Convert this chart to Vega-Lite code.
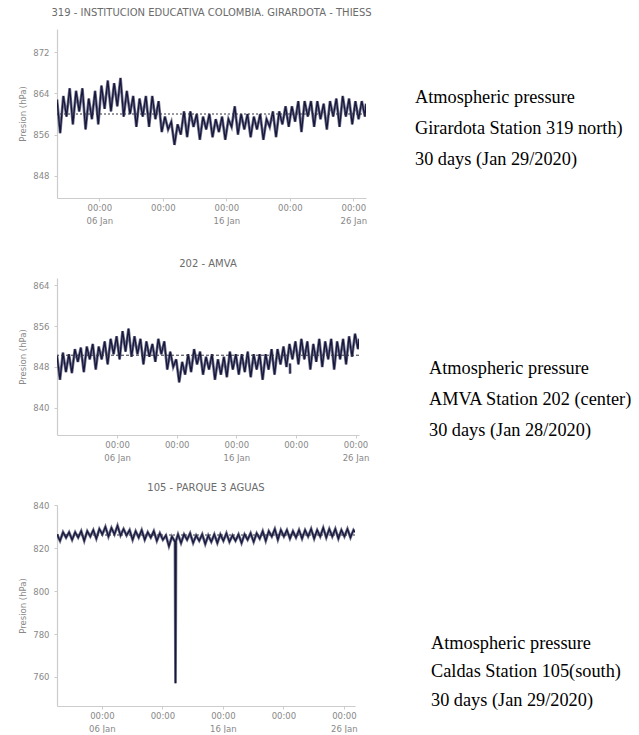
{
  "$schema": "https://vega.github.io/schema/vega-lite/v6.json",
  "background": "white",
  "padding": {"left": 18, "top": 8, "right": 2, "bottom": 0},
  "datasets": {
    "s319": [
      {"t": "2020-01-02T16:00", "p": 862.8}, {"t": "2020-01-02T22:00", "p": 856.3},
      {"t": "2020-01-03T04:00", "p": 863.5}, {"t": "2020-01-03T10:00", "p": 859.5}, {"t": "2020-01-03T16:00", "p": 865.0}, {"t": "2020-01-03T22:00", "p": 858.0},
      {"t": "2020-01-04T04:00", "p": 864.5}, {"t": "2020-01-04T10:00", "p": 860.5}, {"t": "2020-01-04T16:00", "p": 865.0}, {"t": "2020-01-04T22:00", "p": 857.0},
      {"t": "2020-01-05T04:00", "p": 863.0}, {"t": "2020-01-05T10:00", "p": 859.0}, {"t": "2020-01-05T16:00", "p": 864.5}, {"t": "2020-01-05T22:00", "p": 858.0},
      {"t": "2020-01-06T04:00", "p": 865.5}, {"t": "2020-01-06T10:00", "p": 861.0}, {"t": "2020-01-06T16:00", "p": 866.5}, {"t": "2020-01-06T22:00", "p": 860.5},
      {"t": "2020-01-07T04:00", "p": 866.0}, {"t": "2020-01-07T10:00", "p": 861.5}, {"t": "2020-01-07T16:00", "p": 867.0}, {"t": "2020-01-07T22:00", "p": 859.5},
      {"t": "2020-01-08T04:00", "p": 864.5}, {"t": "2020-01-08T10:00", "p": 860.0}, {"t": "2020-01-08T16:00", "p": 863.5}, {"t": "2020-01-08T22:00", "p": 857.5},
      {"t": "2020-01-09T04:00", "p": 863.0}, {"t": "2020-01-09T10:00", "p": 859.5}, {"t": "2020-01-09T16:00", "p": 863.5}, {"t": "2020-01-09T22:00", "p": 857.5},
      {"t": "2020-01-10T04:00", "p": 863.5}, {"t": "2020-01-10T10:00", "p": 859.0}, {"t": "2020-01-10T16:00", "p": 862.5}, {"t": "2020-01-10T22:00", "p": 856.5},
      {"t": "2020-01-11T04:00", "p": 859.5}, {"t": "2020-01-11T10:00", "p": 857.0}, {"t": "2020-01-11T16:00", "p": 858.5}, {"t": "2020-01-11T22:00", "p": 854.0},
      {"t": "2020-01-12T04:00", "p": 858.0}, {"t": "2020-01-12T10:00", "p": 856.0}, {"t": "2020-01-12T16:00", "p": 860.5}, {"t": "2020-01-12T22:00", "p": 855.5},
      {"t": "2020-01-13T04:00", "p": 860.5}, {"t": "2020-01-13T10:00", "p": 857.5}, {"t": "2020-01-13T16:00", "p": 860.0}, {"t": "2020-01-13T22:00", "p": 855.0},
      {"t": "2020-01-14T04:00", "p": 859.5}, {"t": "2020-01-14T10:00", "p": 857.0}, {"t": "2020-01-14T16:00", "p": 860.0}, {"t": "2020-01-14T22:00", "p": 855.5},
      {"t": "2020-01-15T04:00", "p": 859.0}, {"t": "2020-01-15T10:00", "p": 856.5}, {"t": "2020-01-15T16:00", "p": 859.5}, {"t": "2020-01-15T22:00", "p": 855.0},
      {"t": "2020-01-16T04:00", "p": 859.0}, {"t": "2020-01-16T10:00", "p": 857.5}, {"t": "2020-01-16T16:00", "p": 861.5}, {"t": "2020-01-16T22:00", "p": 856.0},
      {"t": "2020-01-17T04:00", "p": 860.0}, {"t": "2020-01-17T10:00", "p": 857.0}, {"t": "2020-01-17T16:00", "p": 860.0}, {"t": "2020-01-17T22:00", "p": 855.5},
      {"t": "2020-01-18T04:00", "p": 859.5}, {"t": "2020-01-18T10:00", "p": 857.0}, {"t": "2020-01-18T16:00", "p": 860.0}, {"t": "2020-01-18T22:00", "p": 855.0},
      {"t": "2020-01-19T04:00", "p": 859.0}, {"t": "2020-01-19T10:00", "p": 857.5}, {"t": "2020-01-19T16:00", "p": 860.5}, {"t": "2020-01-19T22:00", "p": 855.5},
      {"t": "2020-01-20T04:00", "p": 860.5}, {"t": "2020-01-20T10:00", "p": 858.0}, {"t": "2020-01-20T16:00", "p": 861.5}, {"t": "2020-01-20T22:00", "p": 857.5},
      {"t": "2020-01-21T04:00", "p": 861.5}, {"t": "2020-01-21T10:00", "p": 858.5}, {"t": "2020-01-21T16:00", "p": 862.5}, {"t": "2020-01-21T22:00", "p": 856.5},
      {"t": "2020-01-22T04:00", "p": 862.5}, {"t": "2020-01-22T10:00", "p": 859.5}, {"t": "2020-01-22T16:00", "p": 862.5}, {"t": "2020-01-22T22:00", "p": 857.5},
      {"t": "2020-01-23T04:00", "p": 862.5}, {"t": "2020-01-23T10:00", "p": 859.0}, {"t": "2020-01-23T16:00", "p": 862.0}, {"t": "2020-01-23T22:00", "p": 857.0},
      {"t": "2020-01-24T04:00", "p": 862.5}, {"t": "2020-01-24T10:00", "p": 859.5}, {"t": "2020-01-24T16:00", "p": 863.0}, {"t": "2020-01-24T22:00", "p": 857.5},
      {"t": "2020-01-25T04:00", "p": 863.5}, {"t": "2020-01-25T10:00", "p": 859.5}, {"t": "2020-01-25T16:00", "p": 863.0}, {"t": "2020-01-25T22:00", "p": 858.0},
      {"t": "2020-01-26T04:00", "p": 862.5}, {"t": "2020-01-26T10:00", "p": 859.0}, {"t": "2020-01-26T16:00", "p": 862.5}, {"t": "2020-01-26T22:00", "p": 859.5},
      {"t": "2020-01-27T00:00", "p": 862.0}
    ],
    "s202": [
      {"t": "2019-12-31T23:00", "p": 850.2, "seg": "a"},
      {"t": "2020-01-01T05:00", "p": 845.5, "seg": "a"}, {"t": "2020-01-01T11:00", "p": 850.8, "seg": "a"}, {"t": "2020-01-01T17:00", "p": 847.0, "seg": "a"}, {"t": "2020-01-01T23:00", "p": 850.5, "seg": "a"},
      {"t": "2020-01-02T05:00", "p": 846.8, "seg": "a"}, {"t": "2020-01-02T11:00", "p": 851.5, "seg": "a"}, {"t": "2020-01-02T17:00", "p": 849.0, "seg": "a"}, {"t": "2020-01-02T23:00", "p": 851.8, "seg": "a"},
      {"t": "2020-01-03T05:00", "p": 847.0, "seg": "a"}, {"t": "2020-01-03T11:00", "p": 852.0, "seg": "a"}, {"t": "2020-01-03T17:00", "p": 849.5, "seg": "a"}, {"t": "2020-01-03T23:00", "p": 852.5, "seg": "a"},
      {"t": "2020-01-04T05:00", "p": 847.5, "seg": "a"}, {"t": "2020-01-04T11:00", "p": 852.0, "seg": "a"}, {"t": "2020-01-04T17:00", "p": 849.5, "seg": "a"}, {"t": "2020-01-04T23:00", "p": 853.0, "seg": "a"},
      {"t": "2020-01-05T05:00", "p": 848.5, "seg": "a"}, {"t": "2020-01-05T11:00", "p": 853.5, "seg": "a"}, {"t": "2020-01-05T17:00", "p": 850.5, "seg": "a"}, {"t": "2020-01-05T23:00", "p": 854.0, "seg": "a"},
      {"t": "2020-01-06T05:00", "p": 849.5, "seg": "a"}, {"t": "2020-01-06T11:00", "p": 855.0, "seg": "a"}, {"t": "2020-01-06T17:00", "p": 851.0, "seg": "a"}, {"t": "2020-01-06T23:00", "p": 855.5, "seg": "a"},
      {"t": "2020-01-07T05:00", "p": 850.0, "seg": "a"}, {"t": "2020-01-07T11:00", "p": 854.0, "seg": "a"}, {"t": "2020-01-07T17:00", "p": 850.5, "seg": "a"}, {"t": "2020-01-07T23:00", "p": 853.5, "seg": "a"},
      {"t": "2020-01-08T05:00", "p": 848.5, "seg": "a"}, {"t": "2020-01-08T11:00", "p": 853.0, "seg": "a"}, {"t": "2020-01-08T17:00", "p": 850.0, "seg": "a"}, {"t": "2020-01-08T23:00", "p": 852.5, "seg": "a"},
      {"t": "2020-01-09T05:00", "p": 849.0, "seg": "a"}, {"t": "2020-01-09T11:00", "p": 853.5, "seg": "a"}, {"t": "2020-01-09T17:00", "p": 850.5, "seg": "a"}, {"t": "2020-01-09T23:00", "p": 853.0, "seg": "a"},
      {"t": "2020-01-10T05:00", "p": 847.5, "seg": "a"}, {"t": "2020-01-10T11:00", "p": 851.0, "seg": "a"}, {"t": "2020-01-10T17:00", "p": 848.0, "seg": "a"}, {"t": "2020-01-10T23:00", "p": 849.5, "seg": "a"},
      {"t": "2020-01-11T05:00", "p": 845.0, "seg": "a"}, {"t": "2020-01-11T11:00", "p": 849.0, "seg": "a"}, {"t": "2020-01-11T17:00", "p": 846.5, "seg": "a"}, {"t": "2020-01-11T23:00", "p": 850.5, "seg": "a"},
      {"t": "2020-01-12T05:00", "p": 847.0, "seg": "a"}, {"t": "2020-01-12T11:00", "p": 851.5, "seg": "a"}, {"t": "2020-01-12T17:00", "p": 848.5, "seg": "a"}, {"t": "2020-01-12T23:00", "p": 851.0, "seg": "a"},
      {"t": "2020-01-13T05:00", "p": 846.5, "seg": "a"}, {"t": "2020-01-13T11:00", "p": 850.0, "seg": "a"}, {"t": "2020-01-13T17:00", "p": 847.5, "seg": "a"}, {"t": "2020-01-13T23:00", "p": 850.5, "seg": "a"},
      {"t": "2020-01-14T05:00", "p": 845.5, "seg": "a"}, {"t": "2020-01-14T11:00", "p": 849.5, "seg": "a"}, {"t": "2020-01-14T17:00", "p": 846.5, "seg": "a"}, {"t": "2020-01-14T23:00", "p": 850.0, "seg": "a"},
      {"t": "2020-01-15T05:00", "p": 846.0, "seg": "a"}, {"t": "2020-01-15T11:00", "p": 851.0, "seg": "a"}, {"t": "2020-01-15T17:00", "p": 847.5, "seg": "a"}, {"t": "2020-01-15T23:00", "p": 850.5, "seg": "a"},
      {"t": "2020-01-16T05:00", "p": 846.5, "seg": "a"}, {"t": "2020-01-16T11:00", "p": 850.5, "seg": "a"}, {"t": "2020-01-16T17:00", "p": 847.0, "seg": "a"}, {"t": "2020-01-16T23:00", "p": 851.0, "seg": "a"},
      {"t": "2020-01-17T05:00", "p": 846.0, "seg": "a"}, {"t": "2020-01-17T11:00", "p": 850.5, "seg": "a"}, {"t": "2020-01-17T17:00", "p": 847.5, "seg": "a"}, {"t": "2020-01-17T23:00", "p": 850.5, "seg": "a"},
      {"t": "2020-01-18T05:00", "p": 845.5, "seg": "a"}, {"t": "2020-01-18T11:00", "p": 850.5, "seg": "a"}, {"t": "2020-01-18T17:00", "p": 847.5, "seg": "a"}, {"t": "2020-01-18T23:00", "p": 851.5, "seg": "a"},
      {"t": "2020-01-19T05:00", "p": 846.5, "seg": "a"}, {"t": "2020-01-19T11:00", "p": 851.5, "seg": "a"}, {"t": "2020-01-19T17:00", "p": 848.5, "seg": "a"}, {"t": "2020-01-19T23:00", "p": 852.0, "seg": "a"},
      {"t": "2020-01-20T05:00", "p": 848.0, "seg": "a"}, {"t": "2020-01-20T11:00", "p": 852.5, "seg": "a"}, {"t": "2020-01-20T17:00", "p": 849.5, "seg": "a"}, {"t": "2020-01-20T23:00", "p": 853.0, "seg": "a"},
      {"t": "2020-01-21T05:00", "p": 848.5, "seg": "a"}, {"t": "2020-01-21T11:00", "p": 853.5, "seg": "a"}, {"t": "2020-01-21T17:00", "p": 849.5, "seg": "a"}, {"t": "2020-01-21T23:00", "p": 853.0, "seg": "a"},
      {"t": "2020-01-22T05:00", "p": 847.5, "seg": "a"}, {"t": "2020-01-22T11:00", "p": 852.5, "seg": "a"}, {"t": "2020-01-22T17:00", "p": 849.0, "seg": "a"}, {"t": "2020-01-22T23:00", "p": 853.5, "seg": "a"},
      {"t": "2020-01-23T05:00", "p": 848.0, "seg": "a"}, {"t": "2020-01-23T11:00", "p": 853.0, "seg": "a"}, {"t": "2020-01-23T17:00", "p": 849.5, "seg": "a"}, {"t": "2020-01-23T23:00", "p": 853.5, "seg": "a"},
      {"t": "2020-01-24T05:00", "p": 847.5, "seg": "a"}, {"t": "2020-01-24T11:00", "p": 853.0, "seg": "a"}, {"t": "2020-01-24T17:00", "p": 849.5, "seg": "a"}, {"t": "2020-01-24T23:00", "p": 853.5, "seg": "a"},
      {"t": "2020-01-25T05:00", "p": 848.5, "seg": "a"}, {"t": "2020-01-25T11:00", "p": 854.0, "seg": "a"}, {"t": "2020-01-25T17:00", "p": 850.0, "seg": "a"}, {"t": "2020-01-25T23:00", "p": 854.5, "seg": "a"},
      {"t": "2020-01-26T05:00", "p": 851.5, "seg": "a"}, {"t": "2020-01-26T07:00", "p": 853.5, "seg": "a"},
      {"t": "2020-01-20T12:00", "p": 848.7, "seg": "b"}, {"t": "2020-01-20T12:20", "p": 846.7, "seg": "b"}
    ],
    "s105": [
      {"t": "2020-01-02T07:00", "p": 826.5}, {"t": "2020-01-02T13:00", "p": 823.5}, {"t": "2020-01-02T19:00", "p": 827.5},
      {"t": "2020-01-03T01:00", "p": 825.0}, {"t": "2020-01-03T07:00", "p": 827.5}, {"t": "2020-01-03T13:00", "p": 824.0}, {"t": "2020-01-03T19:00", "p": 827.5},
      {"t": "2020-01-04T01:00", "p": 825.0}, {"t": "2020-01-04T07:00", "p": 828.0}, {"t": "2020-01-04T13:00", "p": 823.5}, {"t": "2020-01-04T19:00", "p": 828.0},
      {"t": "2020-01-05T01:00", "p": 825.5}, {"t": "2020-01-05T07:00", "p": 828.5}, {"t": "2020-01-05T13:00", "p": 824.5}, {"t": "2020-01-05T19:00", "p": 829.0},
      {"t": "2020-01-06T01:00", "p": 826.5}, {"t": "2020-01-06T07:00", "p": 830.0}, {"t": "2020-01-06T13:00", "p": 825.5}, {"t": "2020-01-06T19:00", "p": 829.5},
      {"t": "2020-01-07T01:00", "p": 826.5}, {"t": "2020-01-07T07:00", "p": 830.5}, {"t": "2020-01-07T13:00", "p": 826.0}, {"t": "2020-01-07T19:00", "p": 829.0},
      {"t": "2020-01-08T01:00", "p": 826.0}, {"t": "2020-01-08T07:00", "p": 828.5}, {"t": "2020-01-08T13:00", "p": 824.0}, {"t": "2020-01-08T19:00", "p": 828.0},
      {"t": "2020-01-09T01:00", "p": 825.0}, {"t": "2020-01-09T07:00", "p": 828.5}, {"t": "2020-01-09T13:00", "p": 824.0}, {"t": "2020-01-09T19:00", "p": 827.5},
      {"t": "2020-01-10T01:00", "p": 825.0}, {"t": "2020-01-10T07:00", "p": 828.0}, {"t": "2020-01-10T13:00", "p": 823.5}, {"t": "2020-01-10T19:00", "p": 827.0},
      {"t": "2020-01-11T01:00", "p": 824.0}, {"t": "2020-01-11T07:00", "p": 826.0}, {"t": "2020-01-11T13:00", "p": 821.0}, {"t": "2020-01-11T19:00", "p": 825.5},
      {"t": "2020-01-12T01:00", "p": 823.0}, {"t": "2020-01-12T02:00", "p": 757.0}, {"t": "2020-01-12T03:00", "p": 823.5}, {"t": "2020-01-12T07:00", "p": 826.5}, {"t": "2020-01-12T13:00", "p": 822.5}, {"t": "2020-01-12T19:00", "p": 826.5},
      {"t": "2020-01-13T01:00", "p": 824.0}, {"t": "2020-01-13T07:00", "p": 827.0}, {"t": "2020-01-13T13:00", "p": 822.5}, {"t": "2020-01-13T19:00", "p": 826.0},
      {"t": "2020-01-14T01:00", "p": 823.5}, {"t": "2020-01-14T07:00", "p": 826.5}, {"t": "2020-01-14T13:00", "p": 822.0}, {"t": "2020-01-14T19:00", "p": 826.0},
      {"t": "2020-01-15T01:00", "p": 823.0}, {"t": "2020-01-15T07:00", "p": 826.5}, {"t": "2020-01-15T13:00", "p": 822.5}, {"t": "2020-01-15T19:00", "p": 826.5},
      {"t": "2020-01-16T01:00", "p": 823.5}, {"t": "2020-01-16T07:00", "p": 827.0}, {"t": "2020-01-16T13:00", "p": 823.0}, {"t": "2020-01-16T19:00", "p": 826.0},
      {"t": "2020-01-17T01:00", "p": 823.5}, {"t": "2020-01-17T07:00", "p": 826.5}, {"t": "2020-01-17T13:00", "p": 822.5}, {"t": "2020-01-17T19:00", "p": 826.5},
      {"t": "2020-01-18T01:00", "p": 824.0}, {"t": "2020-01-18T07:00", "p": 827.0}, {"t": "2020-01-18T13:00", "p": 823.0}, {"t": "2020-01-18T19:00", "p": 827.0},
      {"t": "2020-01-19T01:00", "p": 824.5}, {"t": "2020-01-19T07:00", "p": 828.0}, {"t": "2020-01-19T13:00", "p": 823.5}, {"t": "2020-01-19T19:00", "p": 828.0},
      {"t": "2020-01-20T01:00", "p": 825.5}, {"t": "2020-01-20T07:00", "p": 829.0}, {"t": "2020-01-20T13:00", "p": 824.0}, {"t": "2020-01-20T19:00", "p": 828.5},
      {"t": "2020-01-21T01:00", "p": 825.5}, {"t": "2020-01-21T07:00", "p": 828.5}, {"t": "2020-01-21T13:00", "p": 824.5}, {"t": "2020-01-21T19:00", "p": 828.0},
      {"t": "2020-01-22T01:00", "p": 825.0}, {"t": "2020-01-22T07:00", "p": 828.5}, {"t": "2020-01-22T13:00", "p": 824.5}, {"t": "2020-01-22T19:00", "p": 828.5},
      {"t": "2020-01-23T01:00", "p": 825.5}, {"t": "2020-01-23T07:00", "p": 829.0}, {"t": "2020-01-23T13:00", "p": 824.5}, {"t": "2020-01-23T19:00", "p": 828.5},
      {"t": "2020-01-24T01:00", "p": 825.5}, {"t": "2020-01-24T07:00", "p": 829.5}, {"t": "2020-01-24T13:00", "p": 825.0}, {"t": "2020-01-24T19:00", "p": 829.0},
      {"t": "2020-01-25T01:00", "p": 825.5}, {"t": "2020-01-25T07:00", "p": 829.0}, {"t": "2020-01-25T13:00", "p": 824.5}, {"t": "2020-01-25T19:00", "p": 828.5},
      {"t": "2020-01-26T01:00", "p": 825.5}, {"t": "2020-01-26T07:00", "p": 829.0}, {"t": "2020-01-26T13:00", "p": 825.0}, {"t": "2020-01-26T19:00", "p": 828.5},
      {"t": "2020-01-26T22:00", "p": 827.5}
    ],
    "notes319": [
      {"line": 1, "label": "Atmospheric pressure"},
      {"line": 2, "label": "Girardota Station 319 north)"},
      {"line": 3, "label": "30 days (Jan 29/2020)"}
    ],
    "notes202": [
      {"line": 1, "label": "Atmospheric pressure"},
      {"line": 2, "label": "AMVA Station 202 (center)"},
      {"line": 3, "label": "30 days (Jan 28/2020)"}
    ],
    "notes105": [
      {"line": 1, "label": "Atmospheric pressure"},
      {"line": 2, "label": "Caldas Station 105(south)"},
      {"line": 3, "label": "30 days (Jan 29/2020)"}
    ]
  },
  "vconcat": [
    {
      "hconcat": [
        {
          "title": {"text": "319 - INSTITUCION EDUCATIVA COLOMBIA. GIRARDOTA - THIESS", "frame": "group", "offset": 11},
          "width": 309,
          "height": 169,
          "layer": [
            {
              "data": {"name": "s319"},
              "mark": {"type": "line", "color": "#74768f", "strokeWidth": 2.8, "clip": true},
              "encoding": {
                "x": {"field": "t", "type": "temporal", "scale": {"domain": [{"year": 2020, "month": 1, "date": 2, "hours": 16}, {"year": 2020, "month": 1, "date": 27}]},
                  "axis": {"title": null, "values": [{"year": 2020, "month": 1, "date": 6}, {"year": 2020, "month": 1, "date": 11}, {"year": 2020, "month": 1, "date": 16}, {"year": 2020, "month": 1, "date": 21}, {"year": 2020, "month": 1, "date": 26}],
                    "labelExpr": "[timeFormat(datum.value, '%H:%M'), date(datum.value) % 10 == 6 ? timeFormat(datum.value, '%d %b') : '']"}},
                "y": {"field": "p", "type": "quantitative", "scale": {"domain": [843.7, 876.5], "zero": false, "nice": false}, "axis": {"title": "Presion (hPa)", "values": [848, 856, 864, 872]}}
              }
            },
            {
              "data": {"name": "s319"},
              "mark": {"type": "line", "color": "#17173c", "strokeWidth": 1.3, "clip": true},
              "encoding": {
                "x": {"field": "t", "type": "temporal"},
                "y": {"field": "p", "type": "quantitative"}
              }
            },
            {
              "data": {"values": [{}]},
              "mark": {"type": "rule", "color": "#333344", "strokeDash": [2, 2], "strokeWidth": 1},
              "encoding": {"y": {"datum": 860}}
            }
          ]
        },
        {
          "width": 215,
          "height": 169,
          "data": {"name": "notes319"},
          "mark": {"type": "text", "align": "left", "baseline": "middle", "font": "Liberation Serif", "fontSize": 18.3, "color": "#000000"},
          "encoding": {
            "x": {"datum": 0, "type": "quantitative", "scale": {"domain": [0, 1]}, "axis": null},
            "y": {"field": "line", "type": "quantitative", "scale": {"domain": [-1.226, 4.226], "reverse": true, "nice": false, "zero": false}, "axis": null},
            "text": {"field": "label"}
          }
        }
      ],
      "spacing": 43
    },
    {
      "vconcat": [
        {
          "hconcat": [
            {
              "title": {"text": "202 - AMVA", "frame": "group", "offset": 9},
              "width": 302,
              "height": 157,
              "layer": [
                {
                  "data": {"name": "s202"},
                  "mark": {"type": "line", "color": "#74768f", "strokeWidth": 2.8, "clip": true},
                  "encoding": {
                    "x": {"field": "t", "type": "temporal", "scale": {"domain": [{"year": 2019, "month": 12, "date": 31, "hours": 23}, {"year": 2020, "month": 1, "date": 26, "hours": 7}]},
                      "axis": {"title": null, "values": [{"year": 2020, "month": 1, "date": 6}, {"year": 2020, "month": 1, "date": 11}, {"year": 2020, "month": 1, "date": 16}, {"year": 2020, "month": 1, "date": 21}, {"year": 2020, "month": 1, "date": 26}],
                        "labelExpr": "[timeFormat(datum.value, '%H:%M'), date(datum.value) % 10 == 6 ? timeFormat(datum.value, '%d %b') : '']"}},
                    "y": {"field": "p", "type": "quantitative", "scale": {"domain": [834.7, 865.4], "zero": false, "nice": false}, "axis": {"title": "Presion (hPa)", "values": [840, 848, 856, 864]}},
                    "detail": {"field": "seg"}
                  }
                },
                {
                  "data": {"name": "s202"},
                  "mark": {"type": "line", "color": "#17173c", "strokeWidth": 1.3, "clip": true},
                  "encoding": {
                    "x": {"field": "t", "type": "temporal"},
                    "y": {"field": "p", "type": "quantitative"},
                    "detail": {"field": "seg"}
                  }
                },
                {
                  "data": {"values": [{}]},
                  "mark": {"type": "rule", "color": "#333344", "strokeDash": [3, 2], "strokeWidth": 1},
                  "encoding": {"y": {"datum": 850.3}}
                }
              ]
            },
            {
              "width": 215,
              "height": 157,
              "data": {"name": "notes202"},
              "mark": {"type": "text", "align": "left", "baseline": "middle", "font": "Liberation Serif", "fontSize": 18.3, "color": "#000000"},
              "encoding": {
                "x": {"datum": 0, "type": "quantitative", "scale": {"domain": [0, 1]}, "axis": null},
                "y": {"field": "line", "type": "quantitative", "scale": {"domain": [-1.935, 3.129], "reverse": true, "nice": false, "zero": false}, "axis": null},
                "text": {"field": "label"}
              }
            }
          ],
          "spacing": 60
        },
        {
          "hconcat": [
            {
              "title": {"text": "105 - PARQUE 3 AGUAS", "frame": "group", "offset": 8},
              "width": 298,
              "height": 201,
              "layer": [
                {
                  "data": {"name": "s105"},
                  "mark": {"type": "line", "color": "#74768f", "strokeWidth": 2.8, "clip": true},
                  "encoding": {
                    "x": {"field": "t", "type": "temporal", "scale": {"domain": [{"year": 2020, "month": 1, "date": 2, "hours": 7}, {"year": 2020, "month": 1, "date": 26, "hours": 22}]},
                      "axis": {"title": null, "values": [{"year": 2020, "month": 1, "date": 6}, {"year": 2020, "month": 1, "date": 11}, {"year": 2020, "month": 1, "date": 16}, {"year": 2020, "month": 1, "date": 21}, {"year": 2020, "month": 1, "date": 26}],
                        "labelExpr": "[timeFormat(datum.value, '%H:%M'), date(datum.value) % 10 == 6 ? timeFormat(datum.value, '%d %b') : '']"}},
                    "y": {"field": "p", "type": "quantitative", "scale": {"domain": [746.4, 840.2], "zero": false, "nice": false}, "axis": {"title": "Presion (hPa)", "values": [760, 780, 800, 820, 840]}}
                  }
                },
                {
                  "data": {"name": "s105"},
                  "mark": {"type": "line", "color": "#17173c", "strokeWidth": 1.3, "clip": true},
                  "encoding": {
                    "x": {"field": "t", "type": "temporal"},
                    "y": {"field": "p", "type": "quantitative"}
                  }
                },
                {
                  "data": {"values": [{}]},
                  "mark": {"type": "rule", "color": "#333344", "strokeDash": [2, 2], "strokeWidth": 1},
                  "encoding": {"y": {"datum": 826.2}}
                }
              ]
            },
            {
              "width": 215,
              "height": 201,
              "data": {"name": "notes105"},
              "mark": {"type": "text", "align": "left", "baseline": "middle", "font": "Liberation Serif", "fontSize": 18.3, "color": "#000000"},
              "encoding": {
                "x": {"datum": 0, "type": "quantitative", "scale": {"domain": [0, 1]}, "axis": null},
                "y": {"field": "line", "type": "quantitative", "scale": {"domain": [-3.877, 3.176], "reverse": true, "nice": false, "zero": false}, "axis": null},
                "text": {"field": "label"}
              }
            }
          ],
          "spacing": 73
        }
      ],
      "spacing": 21
    }
  ],
  "spacing": 34,
  "config": {
    "view": {"stroke": null},
    "font": "DejaVu Sans",
    "axis": {
      "grid": false,
      "domainColor": "#cccccc",
      "domainWidth": 1.2,
      "tickColor": "#cccccc",
      "tickSize": 3,
      "labelColor": "#888888",
      "titleColor": "#888888",
      "labelFont": "DejaVu Sans",
      "titleFont": "DejaVu Sans",
      "labelFontSize": 8.5,
      "titleFontSize": 8.5,
      "titleFontWeight": "normal",
      "labelPadding": 5,
      "titlePadding": 5
    },
    "axisX": {"labelLineHeight": 13, "labelPadding": 2, "labelFlush": false, "labelOverlap": false},
    "title": {"font": "DejaVu Sans", "fontSize": 10, "fontWeight": "normal", "color": "#6b6b6b"}
  }
}
